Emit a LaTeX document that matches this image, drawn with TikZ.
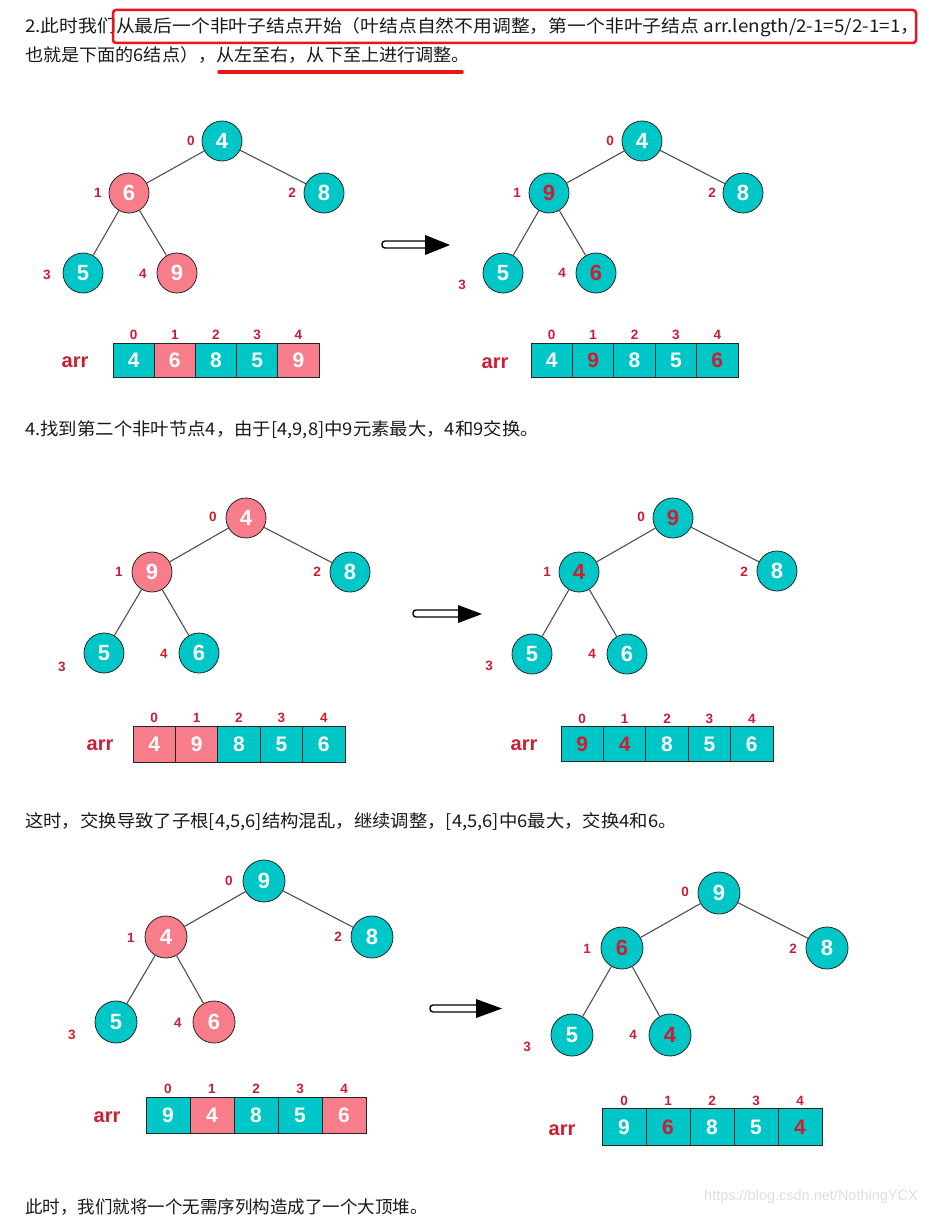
\documentclass[tikz,border=0pt]{standalone}
\usepackage{fontspec}
\setmainfont{Noto Sans CJK SC}
\newfontfamily\arialf{Liberation Sans}
\definecolor{tealc}{RGB}{0,199,199}
\definecolor{pinkc}{RGB}{247,125,138}
\definecolor{redt}{RGB}{204,30,50}
\definecolor{boxred}{RGB}{235,20,25}
\definecolor{edgec}{RGB}{80,80,80}
\definecolor{wm}{RGB}{222,222,222}
\newcommand\cellrow[6]{%
  \foreach \v/\s [count=\k from 0] in {#6}{%
    \node[cell,\s,minimum width=#4pt,minimum height=#5pt] (#1-\k) at ({#2+(\k+0.5)*#4},#3) {\v};
    \node[idx] (#1-i\k) at ({#2+(\k+0.5)*#4},{#3-#5/2-8}) {\k};
  }}
\tikzset{
  circ/.style={circle,draw=black!85,line width=0.8pt,minimum size=40pt,inner sep=0pt,
    font=\arialf\bfseries\fontsize{22}{22}\selectfont},
  big/.style={minimum size=42pt},
  tw/.style={fill=tealc,text=white},
  tr/.style={fill=tealc,text=redt},
  pw/.style={fill=pinkc,text=white},
  cell/.style={rectangle,draw=black!85,line width=0.8pt,inner sep=0pt,
    font=\arialf\bfseries\fontsize{21}{21}\selectfont},
  idx/.style={text=redt,inner sep=0pt,font=\arialf\bfseries\fontsize{13.5}{13.5}\selectfont},
  arrlab/.style={text=redt,inner sep=0pt,font=\arialf\bfseries\fontsize{20}{20}\selectfont},
  edge/.style={draw=edgec,line width=1.1pt},
  para/.style={anchor=west,inner sep=0pt,text=black!90,font=\fontsize{17.5}{19}\selectfont},
  shaft/.style={draw=black,line width=1.4pt,fill=white,rounded corners=3pt},
}
\begin{document}
\begin{tikzpicture}[x=1pt,y=-1pt]
\useasboundingbox (0,0) rectangle (931,1217);
\fill[white] (0,0) rectangle (931,1217);

% ---- top text
\node[para] (l1) at (25,27) {\scalebox{1.075}[1]{2.此时我们从最后一个非叶子结点开始（叶结点自然不用调整，第一个非叶子结点 arr.length/2-1=5/2-1=1，}};
\node[para] (l2) at (25,55) {\scalebox{1.035}[1]{也就是下面的6结点），从左至右，从下至上进行调整。}};
\draw[boxred,line width=2.5pt,rounded corners=3pt] (113,10) rectangle (916,43);
\draw[boxred,line width=3.5pt,line cap=round] (219,72) -- (462,72);

% ---- tree 1
\node[circ,tw] (t1r) at (222,141) {4};
\node[circ,pw] (t1a) at (129,193) {6};
\node[circ,tw] (t1b) at (324,193) {8};
\node[circ,tw] (t1c) at (83,273) {5};
\node[circ,pw] (t1d) at (177,273) {9};
\draw[edge] (t1r) -- (t1a); \draw[edge] (t1r) -- (t1b);
\draw[edge] (t1a) -- (t1c); \draw[edge] (t1a) -- (t1d);
\node[idx] (t1l0) at (191,141) {0};
\node[idx] (t1l1) at (98,193) {1};
\node[idx] (t1l2) at (292,193) {2};
\node[idx] (t1l3) at (47,275) {3};
\node[idx] (t1l4) at (143,274) {4};
\node[arrlab] (a1l) at (75,362) {arr};
\cellrow{a1}{113}{360}{41.2}{34}{4/tw,6/pw,8/tw,5/tw,9/pw}

% arrow 1
\draw[shaft] (382,241) rectangle (428,248);
\fill[black] (425,235) -- (450,245) -- (425,255) -- cycle;

% ---- tree 2
\node[circ,tw] (t2r) at (642,141) {4};
\node[circ,tr] (t2a) at (549,193) {9};
\node[circ,tw] (t2b) at (743,193) {8};
\node[circ,tw] (t2c) at (503,273) {5};
\node[circ,tr] (t2d) at (596,273) {6};
\draw[edge] (t2r) -- (t2a); \draw[edge] (t2r) -- (t2b);
\draw[edge] (t2a) -- (t2c); \draw[edge] (t2a) -- (t2d);
\node[idx] (t2l0) at (610,141) {0};
\node[idx] (t2l1) at (517,193) {1};
\node[idx] (t2l2) at (712,193) {2};
\node[idx] (t2l3) at (462,285) {3};
\node[idx] (t2l4) at (562,273) {4};
\node[arrlab] (a2l) at (495,363) {arr};
\cellrow{a2}{531}{360}{41.4}{34}{4/tw,9/tr,8/tw,5/tw,6/tr}

% ---- text 2
\node[para] (l3) at (25,430) {\scalebox{1.05}[1]{4.找到第二个非叶节点4，由于[4,9,8]中9元素最大，4和9交换。}};

% ---- tree 3
\node[circ,pw] (t3r) at (246,518) {4};
\node[circ,pw] (t3a) at (152,572) {9};
\node[circ,tw] (t3b) at (350,572) {8};
\node[circ,tw] (t3c) at (104,653) {5};
\node[circ,tw] (t3d) at (199,653) {6};
\draw[edge] (t3r) -- (t3a); \draw[edge] (t3r) -- (t3b);
\draw[edge] (t3a) -- (t3c); \draw[edge] (t3a) -- (t3d);
\node[idx] (t3l0) at (213,517) {0};
\node[idx] (t3l1) at (119,572) {1};
\node[idx] (t3l2) at (317,572) {2};
\node[idx] (t3l3) at (62,667) {3};
\node[idx] (t3l4) at (164,654) {4};
\node[arrlab] (a3l) at (100,745) {arr};
\cellrow{a3}{133}{744}{42.4}{36}{4/pw,9/pw,8/tw,5/tw,6/tw}

% arrow 2
\draw[shaft] (413,610) rectangle (461,617);
\fill[black] (458,605) -- (482,614) -- (458,623) -- cycle;

% ---- tree 4
\node[circ,tr] (t4r) at (673,518) {9};
\node[circ,tr] (t4a) at (579,572) {4};
\node[circ,tw] (t4b) at (777,571) {8};
\node[circ,tw] (t4c) at (532,654) {5};
\node[circ,tw] (t4d) at (627,654) {6};
\draw[edge] (t4r) -- (t4a); \draw[edge] (t4r) -- (t4b);
\draw[edge] (t4a) -- (t4c); \draw[edge] (t4a) -- (t4d);
\node[idx] (t4l0) at (641,517) {0};
\node[idx] (t4l1) at (547,572) {1};
\node[idx] (t4l2) at (744,572) {2};
\node[idx] (t4l3) at (489,666) {3};
\node[idx] (t4l4) at (592,654) {4};
\node[arrlab] (a4l) at (524,745) {arr};
\cellrow{a4}{561}{744}{42.4}{35}{9/tr,4/tr,8/tw,5/tw,6/tw}

% ---- text 3
\node[para] (l4) at (25,822) {\scalebox{1.05}[1]{这时，交换导致了子根[4,5,6]结构混乱，继续调整，[4,5,6]中6最大，交换4和6。}};

% ---- tree 5
\node[circ,big,tw] (t5r) at (264,881) {9};
\node[circ,big,pw] (t5a) at (166,937) {4};
\node[circ,big,tw] (t5b) at (372,937) {8};
\node[circ,big,tw] (t5c) at (116,1022) {5};
\node[circ,big,pw] (t5d) at (214,1022) {6};
\draw[edge] (t5r) -- (t5a); \draw[edge] (t5r) -- (t5b);
\draw[edge] (t5a) -- (t5c); \draw[edge] (t5a) -- (t5d);
\node[idx] (t5l0) at (229,881) {0};
\node[idx] (t5l1) at (131,938) {1};
\node[idx] (t5l2) at (338,937) {2};
\node[idx] (t5l3) at (72,1035) {3};
\node[idx] (t5l4) at (178,1023) {4};
\node[arrlab] (a5l) at (107,1117) {arr};
\cellrow{a5}{146}{1115}{44}{36}{9/tw,4/pw,8/tw,5/tw,6/pw}

% arrow 3
\draw[shaft] (430,1005) rectangle (479,1012);
\fill[black] (476,999) -- (502,1008.5) -- (476,1018) -- cycle;

% ---- tree 6
\node[circ,big,tw] (t6r) at (719,893) {9};
\node[circ,big,tr] (t6a) at (622,948) {6};
\node[circ,big,tw] (t6b) at (827,948) {8};
\node[circ,big,tw] (t6c) at (572,1035) {5};
\node[circ,big,tr] (t6d) at (670,1035) {4};
\draw[edge] (t6r) -- (t6a); \draw[edge] (t6r) -- (t6b);
\draw[edge] (t6a) -- (t6c); \draw[edge] (t6a) -- (t6d);
\node[idx] (t6l0) at (685,892) {0};
\node[idx] (t6l1) at (587,949) {1};
\node[idx] (t6l2) at (793,949) {2};
\node[idx] (t6l3) at (527,1047) {3};
\node[idx] (t6l4) at (633,1035) {4};
\node[arrlab] (a6l) at (562,1130) {arr};
\cellrow{a6}{602}{1127}{44}{37}{9/tw,6/tr,8/tw,5/tw,4/tr}

% ---- final text and watermark
\node[para] (l5) at (25,1207) {此时，我们就将一个无需序列构造成了一个大顶堆。};
\node[anchor=east,inner sep=0pt,text=wm,font=\arialf\fontsize{14.5}{15}\selectfont] (wmk) at (918,1197) {https://blog.csdn.net/NothingYCX};
\end{tikzpicture}
\end{document}
